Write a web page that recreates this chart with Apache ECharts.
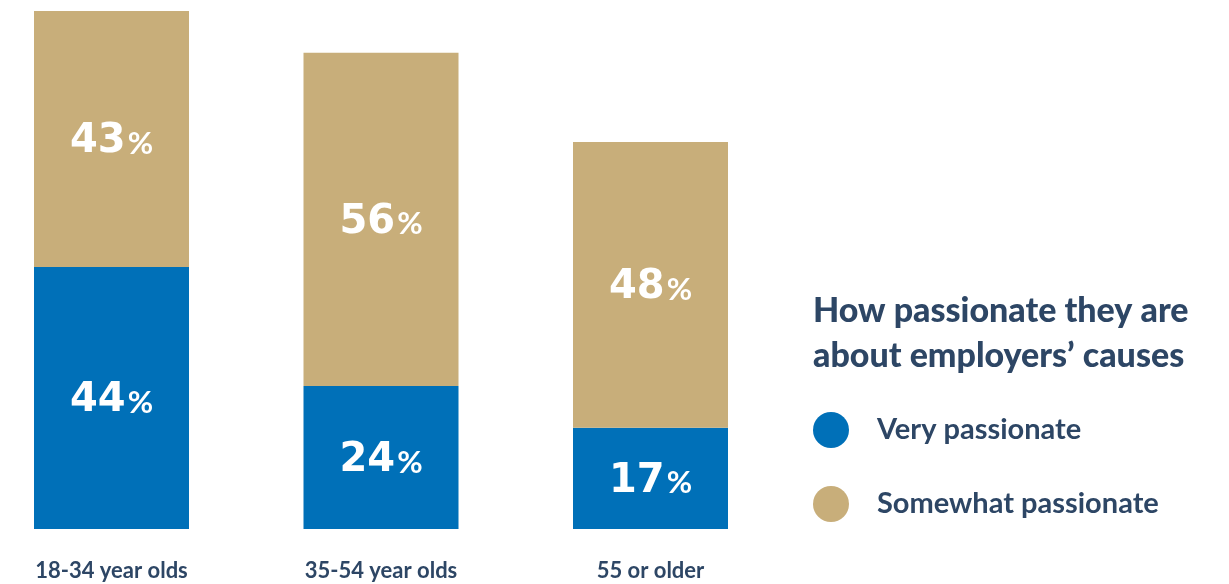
<!DOCTYPE html>
<html>
<head>
<meta charset="utf-8">
<script src="https://cdn.jsdelivr.net/npm/echarts@6/dist/echarts.min.js"></script>
<style>
  html, body { margin: 0; padding: 0; background: #ffffff; }
  #chart { width: 1229px; height: 584px; }
</style>
</head>
<body>
<div id="chart"></div>
<script>
// Age groups and share of respondents by how passionate they are about employers' causes
const ageGroups = ['18-34 year olds', '35-54 year olds', '55 or older'];
const veryPassionate = [44, 24, 17];
const somewhatPassionate = [43, 56, 48];
const seriesNames = ['Very passionate', 'Somewhat passionate'];

const NAVY = '#2d4665';
const BLUE = '#0070b8';
const TAN = '#c8ae7a';
const FONT = 'Lato, "Open Sans", sans-serif';
const NUM_FONT = '"DejaVu Sans", Lato, sans-serif';

const pctLabel = {
  show: true,
  position: 'inside',
  offset: [0, 3],
  formatter: p => '{n|' + p.value + '}{p|%}',
  rich: {
    n: { color: '#ffffff', fontSize: 40, fontWeight: 'bold', fontFamily: NUM_FONT },
    p: { color: '#ffffff', fontSize: 31, fontWeight: 700, fontFamily: FONT, padding: [4, 0, 0, 2] }
  }
};

const chart = echarts.init(document.getElementById('chart'), null, { renderer: 'canvas' });
chart.setOption({
  animation: false,
  backgroundColor: '#ffffff',
  title: {
    text: 'How passionate they are\nabout employers\u2019 causes',
    left: 813,
    top: 289,
    padding: 0,
    textStyle: {
      color: NAVY, fontSize: 34, fontWeight: 900, fontFamily: FONT, lineHeight: 45
    }
  },
  legend: {
    data: seriesNames,
    orient: 'vertical',
    left: 813,
    top: 412,
    padding: 0,
    icon: 'circle',
    itemWidth: 36,
    itemHeight: 36,
    itemGap: 38,
    textStyle: {
      color: NAVY, fontSize: 29, fontWeight: 700, fontFamily: FONT, padding: [0, 0, 0, 23]
    },
    selectedMode: false
  },
  // Category ticks sit on the bar centres
  grid: { left: 111.5, right: 578.5, top: 11, bottom: 55, containLabel: false },
  xAxis: {
    type: 'category',
    data: ageGroups,
    boundaryGap: false,
    axisLine: { show: false },
    axisTick: { show: false },
    axisLabel: {
      color: NAVY, fontSize: 22, fontWeight: 700, fontFamily: FONT, margin: 31
    }
  },
  yAxis: {
    type: 'value',
    min: 0,
    max: 87,
    show: false,
    splitLine: { show: false }
  },
  series: [
    {
      name: seriesNames[0],
      type: 'bar',
      stack: 'total',
      barWidth: 155,
      data: veryPassionate,
      itemStyle: { color: BLUE },
      label: pctLabel
    },
    {
      name: seriesNames[1],
      type: 'bar',
      stack: 'total',
      barWidth: 155,
      data: somewhatPassionate,
      itemStyle: { color: TAN },
      label: pctLabel
    }
  ]
});
</script>
</body>
</html>
